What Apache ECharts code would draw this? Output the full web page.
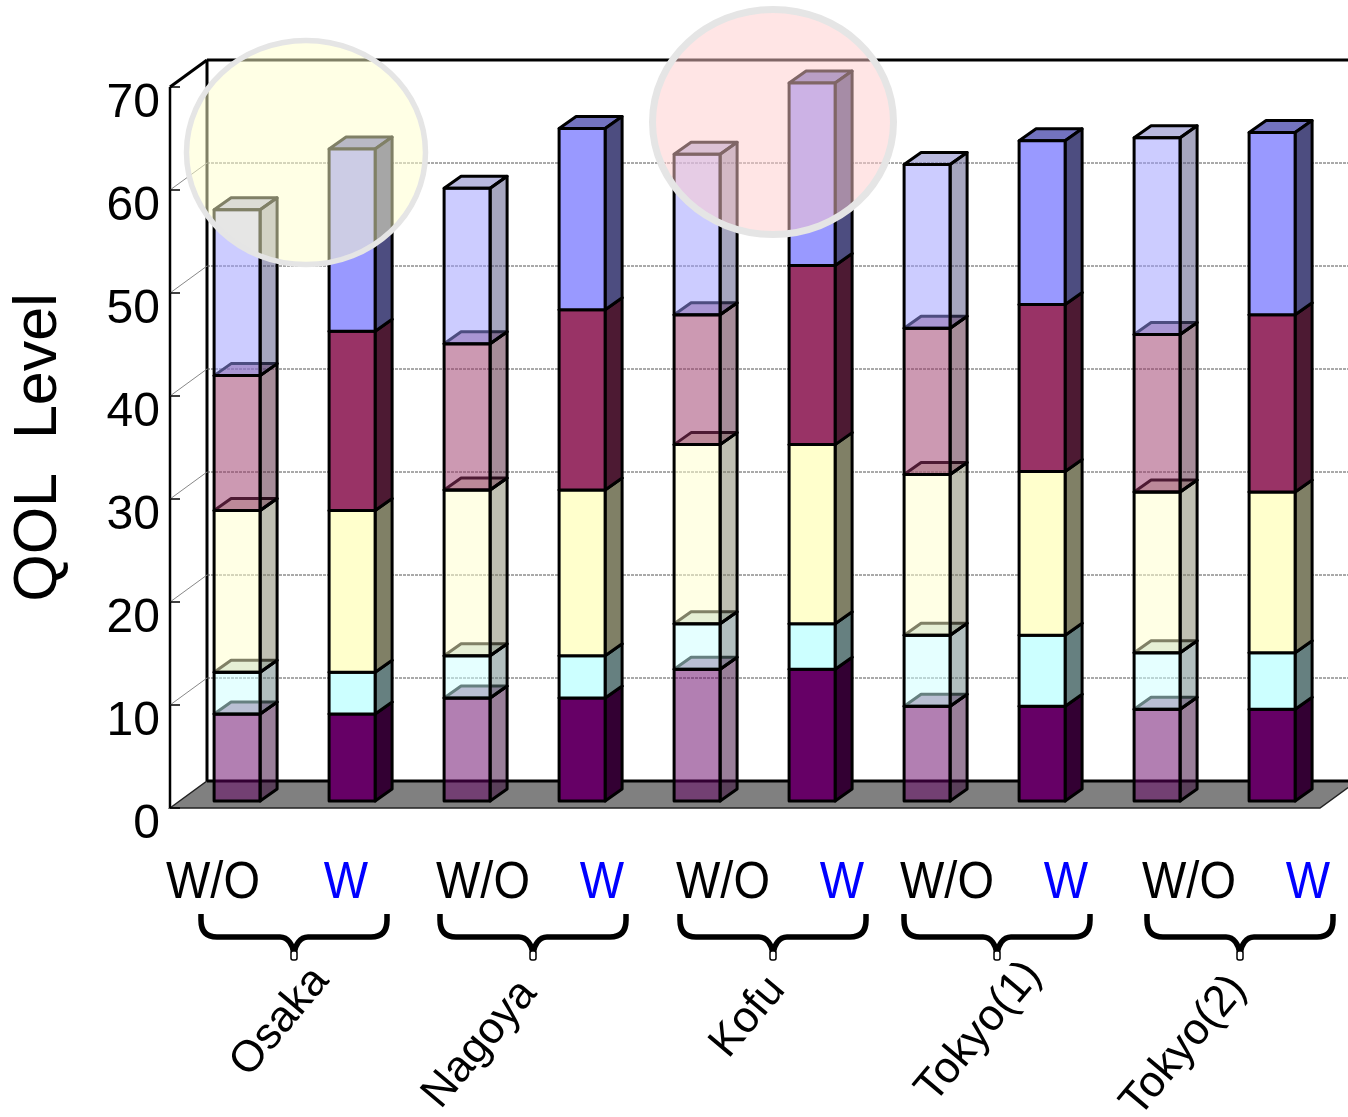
<!DOCTYPE html>
<html>
<head>
<meta charset="utf-8">
<style>html,body{margin:0;padding:0;background:#fff}#main{width:1348px;height:1117px}</style>
<script src="https://cdn.jsdelivr.net/npm/echarts@6/dist/echarts.min.js"></script>
</head>
<body>
<div id="main"></div>
<script>
// one entry per bar, W/O and W alternate
var barLabels = ['W/O', 'W', 'W/O', 'W', 'W/O', 'W', 'W/O', 'W', 'W/O', 'W'];
var cities = ['Osaka', 'Nagoya', 'Kofu', 'Tokyo(1)', 'Tokyo(2)'];
var yTicks = [0, 10, 20, 30, 40, 50, 60, 70];

// stack layers, bottom to top
var layer1 = [8.45, 8.45, 10, 10, 12.8, 12.8, 9.2, 9.2, 8.9, 8.9];
var layer2 = [4.05, 4.05, 4.1, 4.1, 4.4, 4.4, 6.9, 6.9, 5.5, 5.5];
var layer3 = [15.7, 15.7, 16.1, 16.1, 17.4, 17.4, 15.6, 15.9, 15.6, 15.6];
var layer4 = [13.1, 17.4, 14.2, 17.5, 12.6, 17.4, 14.2, 16.2, 15.3, 17.2];
var layer5 = [16.1, 17.7, 15.1, 17.6, 15.6, 17.7, 15.9, 15.9, 19.1, 17.7];

var layers = [layer1, layer2, layer3, layer4, layer5];
var colors = [[102, 0, 102], [204, 255, 255], [255, 255, 204], [153, 51, 102], [153, 153, 255]];

var chart = echarts.init(document.getElementById('main'));

var WALL_DX = 37, WALL_DY = -27;   // floor depth
var BAR_X = 9.6, BAR_Y = -7;       // bar front plane, from the front axis
var DEPTH_X = 17, DEPTH_Y = -12;   // bar depth

function rgba(c, k, a) {
    return 'rgba(' + Math.round(c[0] * k) + ',' + Math.round(c[1] * k) + ',' + Math.round(c[2] * k) + ',' + a + ')';
}

function poly(points, fill, lineW) {
    return {
        type: 'polygon',
        shape: {points: points},
        style: {fill: fill, stroke: '#000', lineWidth: lineW === undefined ? 3 : lineW, lineJoin: 'round'}
    };
}

function renderLayer(color) {
    return function (params, api) {
        var i = api.value(0);
        var a = api.coord([i, api.value(1)]);
        var b = api.coord([i, api.value(2)]);
        var half = api.size([1, 0])[0] * 0.2;
        var x0 = a[0] + BAR_X - half, x1 = a[0] + BAR_X + half;
        var y0 = a[1] + BAR_Y, y1 = b[1] + BAR_Y;
        var op = i % 2 === 0 ? 0.5 : 1;
        return {
            type: 'group',
            children: [
                poly([[x0, y1], [x1, y1], [x1 + DEPTH_X, y1 + DEPTH_Y], [x0 + DEPTH_X, y1 + DEPTH_Y]], rgba(color, 0.75, op)),
                poly([[x1, y0], [x1 + DEPTH_X, y0 + DEPTH_Y], [x1 + DEPTH_X, y1 + DEPTH_Y], [x1, y1]], rgba(color, 0.5, op)),
                poly([[x0, y0], [x1, y0], [x1, y1], [x0, y1]], rgba(color, 1, op))
            ]
        };
    };
}

function renderFrame(params, api) {
    var cs = params.coordSys;
    var p = api.coord([0, api.value(0)]);
    var left = cs.x, right = cs.x + cs.width, base = cs.y + cs.height, top = cs.y;
    var y = p[1];
    var kids = [];
    if (api.value(0) === 0) {
        // floor and the heavy frame lines
        kids.push({type: 'polygon', shape: {points: [[left, base], [left + WALL_DX, base + WALL_DY], [right + WALL_DX, base + WALL_DY], [right, base]]},
            style: {fill: '#808080', stroke: '#222', lineWidth: 1.5}});
        kids.push({type: 'line', shape: {x1: left + WALL_DX, y1: base + WALL_DY, x2: right + WALL_DX, y2: base + WALL_DY}, style: {stroke: '#000', lineWidth: 3}});
        kids.push({type: 'line', shape: {x1: left + WALL_DX, y1: top + WALL_DY, x2: left + WALL_DX, y2: base + WALL_DY}, style: {stroke: '#000', lineWidth: 3}});
        kids.push({type: 'line', shape: {x1: left + WALL_DX, y1: top + WALL_DY, x2: right + WALL_DX, y2: top + WALL_DY}, style: {stroke: '#000', lineWidth: 3}});
        kids.push({type: 'line', shape: {x1: left, y1: top, x2: left + WALL_DX, y2: top + WALL_DY}, style: {stroke: '#000', lineWidth: 3}});
        kids.push({type: 'line', shape: {x1: left, y1: top, x2: left, y2: base}, style: {stroke: '#000', lineWidth: 2.5}});
    } else if (api.value(0) < 70) {
        kids.push({type: 'line', shape: {x1: left + WALL_DX, y1: y + WALL_DY, x2: right + WALL_DX, y2: y + WALL_DY},
            style: {stroke: '#555', lineWidth: 1, lineDash: [3, 1]}});
        kids.push({type: 'line', shape: {x1: left, y1: y, x2: left + WALL_DX, y2: y + WALL_DY}, style: {stroke: '#888', lineWidth: 1}});
    }
    kids.push({type: 'line', shape: {x1: left, y1: y, x2: left + 10, y2: y}, style: {stroke: '#000', lineWidth: 1.5}});
    return {type: 'group', children: kids};
}

// stacked series built from the layer arrays
var series = [{
    type: 'custom',
    z: 1,
    silent: true,
    renderItem: renderFrame,
    encode: {y: 0},
    data: yTicks.map(function (v) { return [v]; })
}];
var running = barLabels.map(function () { return 0; });
layers.forEach(function (layer, k) {
    series.push({
        type: 'custom',
        name: 'layer' + (k + 1),
        z: 2 + k,
        silent: true,
        renderItem: renderLayer(colors[k]),
        encode: {x: 0, y: [1, 2]},
        data: layer.map(function (v, i) {
            var item = [i, running[i], running[i] + v];
            running[i] += v;
            return item;
        })
    });
});

// annotations under the axis
var graphics = [];
var barTextX = [213, 346, 483, 602, 723, 842, 947, 1066, 1189, 1308];
barLabels.forEach(function (t, i) {
    graphics.push({type: 'text', z: 50, x: barTextX[i], y: 884, scaleY: 1.1, style: {text: t, x: 0, y: 0, align: 'center', verticalAlign: 'middle',
        fill: t === 'W' ? '#0000ff' : '#000', font: '47px "Liberation Sans"'}});
});

var braceX = [294, 533, 773, 997, 1240];
var braceStyle = {stroke: '#000', fill: null, lineWidth: 5.5};
function brace(cx) {
    var w = 93, y0 = 914, y1 = 937, y2 = 960;
    [-1, 1].forEach(function (s) {
        graphics.push({type: 'line', z: 50, shape: {x1: cx + s * w, y1: y0, x2: cx + s * w, y2: y0 + 6}, style: braceStyle});
        graphics.push({type: 'bezierCurve', z: 50, shape: {x1: cx + s * w, y1: y0 + 6, x2: cx + s * (w - 16), y2: y1, cpx1: cx + s * w, cpy1: y1 - 3, cpx2: cx + s * (w - 8), cpy2: y1}, style: braceStyle});
        graphics.push({type: 'line', z: 50, shape: {x1: cx + s * (w - 16), y1: y1, x2: cx + s * 14, y2: y1}, style: braceStyle});
        graphics.push({type: 'bezierCurve', z: 50, shape: {x1: cx + s * 14, y1: y1, x2: cx, y2: y2 - 6, cpx1: cx + s * 6, cpy1: y1, cpx2: cx + s * 1, cpy2: y1 + 8}, style: braceStyle});
    });
    graphics.push({type: 'rect', z: 51, shape: {x: cx - 3, y: y2 - 9, width: 6, height: 9, r: 2}, style: {fill: '#fff', stroke: '#000', lineWidth: 1.5}});
}
braceX.forEach(brace);

var cityX = [280, 480, 748, 979, 1184];
var cityY = [1022, 1044, 1017, 1032, 1046];
cities.forEach(function (t, i) {
    graphics.push({type: 'text', z: 50, x: cityX[i], y: cityY[i], rotation: 50 * Math.PI / 180,
        style: {text: t, x: 0, y: 0, align: 'center', verticalAlign: 'middle', fill: '#000', font: '44px "Liberation Sans"'}});
});

// highlight rings over the tallest bars
graphics.push({type: 'ellipse', z: 100, shape: {cx: 306, cy: 152.5, rx: 119.5, ry: 112},
    style: {fill: 'rgba(255,255,204,0.5)', stroke: '#e5e5e5', lineWidth: 5.5}});
graphics.push({type: 'ellipse', z: 100, shape: {cx: 773, cy: 122, rx: 120.5, ry: 112.5},
    style: {fill: 'rgba(255,204,204,0.5)', stroke: '#e5e5e5', lineWidth: 7}});

var option = {
    backgroundColor: '#fff',
    animation: false,
    grid: {left: 170, top: 87, width: 1150, height: 721, outerBoundsMode: 'none'},
    xAxis: {
        type: 'category',
        data: barLabels,
        axisLine: {show: false},
        axisTick: {show: false},
        axisLabel: {show: false},
        splitLine: {show: false}
    },
    yAxis: {
        type: 'value',
        min: 0,
        max: 70,
        interval: 10,
        name: 'QOL  Level',
        nameLocation: 'middle',
        nameGap: 100,
        nameRotate: 90,
        nameTextStyle: {fontFamily: 'Liberation Sans', fontSize: 61, color: '#000'},
        axisLine: {show: false},
        axisTick: {show: false},
        splitLine: {show: false},
        axisLabel: {
            margin: 10,
            color: '#000',
            fontFamily: 'Liberation Sans',
            fontSize: 48,
            verticalAlign: 'top',
            lineHeight: 34
        }
    },
    graphic: {elements: graphics},
    series: series
};
chart.setOption(option);
</script>
</body>
</html>
